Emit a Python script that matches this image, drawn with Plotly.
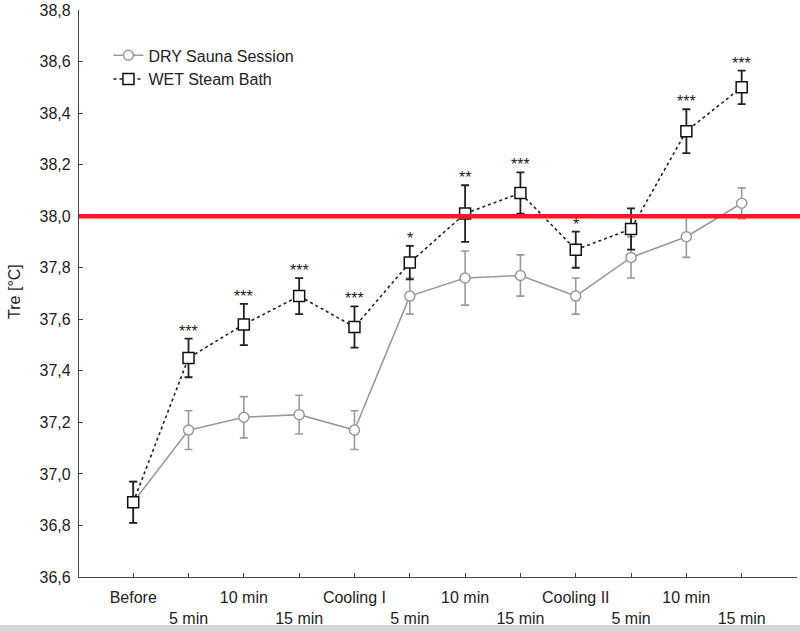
import plotly.graph_objects as go

categories = ["Before", "5 min", "10 min", "15 min", "Cooling I", "5 min", "10 min",
              "15 min", "Cooling II", "5 min", "10 min", "15 min"]
dry_mean = [36.89, 37.17, 37.22, 37.23, 37.17, 37.69, 37.76, 37.77, 37.69, 37.84, 37.92, 38.05]
dry_err = [0.08, 0.075, 0.08, 0.075, 0.075, 0.07, 0.105, 0.08, 0.07, 0.08, 0.08, 0.06]
wet_mean = [36.89, 37.45, 37.58, 37.69, 37.57, 37.82, 38.01, 38.09, 37.87, 37.95, 38.33, 38.50]
wet_err = [0.08, 0.075, 0.08, 0.07, 0.08, 0.065, 0.11, 0.08, 0.07, 0.08, 0.085, 0.065]
significance = ["", "***", "***", "***", "***", "*", "**", "***", "*", "", "***", "***"]
threshold = 38.0
y_ticks = [36.6, 36.8, 37.0, 37.2, 37.4, 37.6, 37.8, 38.0, 38.2, 38.4, 38.6, 38.8]

xpos = list(range(len(categories)))
ticktext = [c if i % 2 == 0 else "<br>" + c for i, c in enumerate(categories)]

FONT = "Liberation Sans, Arial, sans-serif"
GRAY = "#9a9a9a"

fig = go.Figure()
fig.add_trace(go.Scatter(
    x=xpos, y=dry_mean, name="DRY Sauna Session", mode="lines+markers",
    line=dict(color=GRAY, width=1.6),
    marker=dict(symbol="circle", size=10, color="white", line=dict(color=GRAY, width=1.5)),
    error_y=dict(type="data", array=dry_err, color=GRAY, thickness=1.6, width=4),
))
fig.add_trace(go.Scatter(
    x=xpos, y=wet_mean, name="WET Steam Bath", mode="lines+markers",
    line=dict(color="#222222", width=1.6, dash="3px,3px"),
    marker=dict(symbol="square", size=11, color="white", line=dict(color="#111111", width=1.5)),
    error_y=dict(type="data", array=wet_err, color="#222222", thickness=1.8, width=4),
))

for i, s in enumerate(significance):
    if s:
        fig.add_annotation(x=xpos[i], y=wet_mean[i] + wet_err[i], text=s, showarrow=False,
                           yanchor="bottom", yshift=-3,
                           font=dict(family=FONT, size=16, color="#222222"))

# y axis title
fig.add_annotation(xref="paper", yref="paper", x=-0.089, y=0.503, text="Tre [°C]",
                   textangle=-90, showarrow=False, xanchor="center", yanchor="middle",
                   font=dict(family=FONT, size=16, color="#222222"))

# red threshold line
fig.add_shape(type="line", xref="paper", yref="y", x0=0, x1=1.005, y0=threshold, y1=threshold,
              line=dict(color="#EE1C25", width=4.5))
# bottom gray band
fig.add_shape(type="rect", xref="paper", yref="paper", x0=-0.2, x1=1.1, y0=-0.0847, y1=-0.2,
              fillcolor="#d6d6d6", line=dict(width=0))

fig.update_layout(
    width=800, height=631,
    margin=dict(l=79, r=3, t=10, b=54, autoexpand=False),
    plot_bgcolor="white", paper_bgcolor="white",
    separators=",.",
    font=dict(family=FONT, size=16, color="#222222"),
    showlegend=True,
    legend=dict(x=0.041, y=0.95, xanchor="left", yanchor="top", bgcolor="rgba(0,0,0,0)",
                font=dict(size=16), tracegroupgap=0, itemwidth=30),
    xaxis=dict(range=[-0.98, 12.0], tickmode="array", tickvals=xpos, ticktext=ticktext,
               showline=True, linecolor="#444444", linewidth=1.2, ticks="inside", ticklen=4,
               tickcolor="#444444", showgrid=False, zeroline=False, tickangle=0,
               automargin=False, ticklabelstandoff=6),
    yaxis=dict(range=[36.6, 38.8], tickmode="array", tickvals=y_ticks, tickformat=".1f",
               showline=True, linecolor="#444444", linewidth=1.2, ticks="inside", ticklen=4,
               tickcolor="#444444", showgrid=False, zeroline=False, automargin=False,
               ticklabelstandoff=4),
)

fig.write_html("out.html", config={"displayModeBar": False},
               post_script="document.body.style.margin='0';document.body.style.padding='0';")
